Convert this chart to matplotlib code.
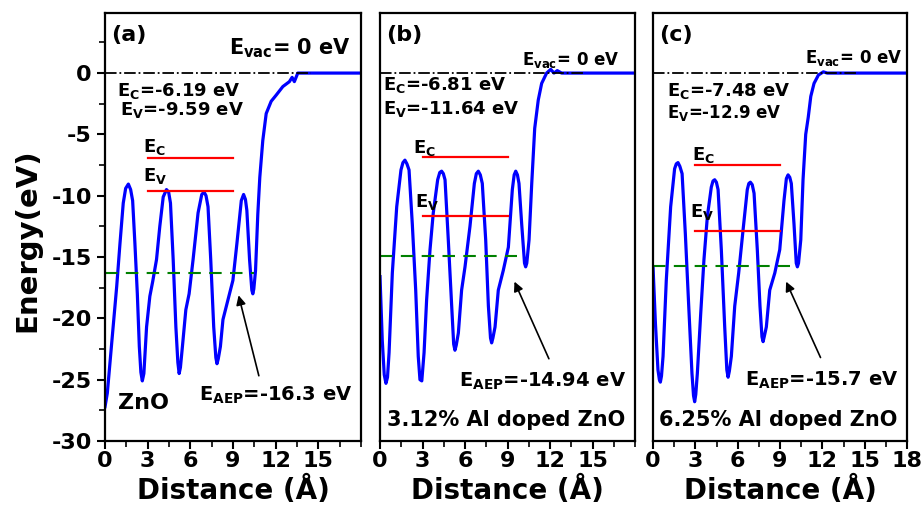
import numpy as np
import matplotlib
matplotlib.use("Agg")
import matplotlib.pyplot as plt

plt.rcParams['font.family'] = ['DejaVu Sans']
plt.rcParams['font.weight'] = 'bold'
plt.rcParams['mathtext.fontset'] = 'custom'
plt.rcParams['mathtext.rm'] = 'DejaVu Sans:bold'
plt.rcParams['mathtext.bf'] = 'DejaVu Sans:bold'
plt.rcParams['axes.unicode_minus'] = False

# planar averaged potential
dist_a = [0, 0.16, 0.47, 0.82, 1.05, 1.28, 1.45, 1.64, 1.8, 1.94, 2.10, 2.27, 2.41, 2.52, 2.62,
          2.73, 2.92, 3.15, 3.35, 3.62, 3.85, 4.09, 4.32, 4.47, 4.6, 4.79, 4.98, 5.12, 5.21,
          5.3, 5.44, 5.68, 5.91, 6.19, 6.54, 6.8, 6.96, 7.1, 7.24, 7.43, 7.64, 7.79, 7.87, 7.96,
          8.11, 8.29, 8.64, 8.99, 9.27, 9.58, 9.74, 9.87, 9.97, 10.16, 10.32, 10.39, 10.46,
          10.58, 10.74, 10.88, 11.09, 11.33, 11.68, 12.03, 12.5, 12.96, 13.15, 13.31, 13.55,
          14.0, 18.0]
pot_a = [-27.2, -26.1, -22.0, -17.4, -13.9, -10.6, -9.4, -9.05, -9.5, -10.4, -13.9, -18.0,
         -22.3, -24.4, -25.1, -24.5, -20.7, -18.2, -17.0, -15.2, -12.5, -10.1, -9.5, -9.7, -10.6,
         -15.2, -20.7, -23.6, -24.5, -24.0, -22.3, -19.3, -18.0, -15.2, -11.4, -9.9, -9.7,
         -10.0, -10.9, -15.2, -20.7, -23.2, -23.7, -23.3, -22.3, -20.1, -18.5, -16.9, -13.9,
         -10.4, -9.9, -10.3, -11.2, -15.2, -17.7, -18.0, -17.6, -16.1, -11.5, -8.5, -5.5, -3.3,
         -2.3, -1.8, -1.1, -0.7, -0.35, -0.7, 0, 0, 0]

dist_b = [0, 0.16, 0.3, 0.42, 0.53, 0.64, 0.87, 1.18, 1.48, 1.62, 1.76, 1.9, 2.05, 2.28, 2.52,
          2.70, 2.82, 2.95, 3.11, 3.29, 3.53, 3.76, 4.07, 4.22, 4.35, 4.47, 4.59, 4.82, 5.06,
          5.2, 5.29, 5.38, 5.53, 5.76, 6.0, 6.35, 6.66, 6.8, 6.94, 7.08, 7.22, 7.46, 7.65, 7.8,
          7.88, 7.97, 8.12, 8.35, 8.70, 9.06, 9.34, 9.47, 9.58, 9.7, 9.81, 10.0, 10.2, 10.28,
          10.36, 10.52, 10.71, 10.92, 11.17, 11.41, 11.76, 12.05, 12.28, 12.51, 12.82, 18]
pot_b = [-16.6, -21.8, -24.6, -25.3, -24.8, -22.8, -16.3, -10.9, -7.9, -7.3, -7.1, -7.4, -7.9,
         -12.3, -17.7, -23.1, -25.0, -25.1, -22.8, -18.5, -14.4, -11.4, -8.7, -8.1, -8.0, -8.2,
         -8.7, -13.6, -19.0, -22.1, -22.6, -22.2, -21.2, -17.7, -15.8, -12.5, -9.0, -8.2, -8.0,
         -8.3, -9.0, -13.6, -19.0, -21.6, -22.0, -21.6, -20.7, -17.7, -16.1, -14.2, -9.5, -8.3,
         -8.0, -8.3, -9.0, -12.3, -15.5, -15.8, -15.5, -13.6, -9.0, -4.5, -2.2, -0.84, 0, 0.3,
         0, 0.2, 0, 0]

dist_c = [0, 0.17, 0.35, 0.45, 0.52, 0.6, 0.71, 0.94, 1.25, 1.53, 1.65, 1.77, 1.9, 2.06, 2.29,
          2.53, 2.76, 2.87, 2.95, 3.03, 3.14, 3.38, 3.61, 3.85, 4.13, 4.25, 4.37, 4.49, 4.61,
          4.84, 5.08, 5.23, 5.32, 5.41, 5.55, 5.79, 6.07, 6.38, 6.68, 6.79, 6.90, 7.03, 7.16,
          7.39, 7.58, 7.72, 7.80, 7.88, 8.03, 8.27, 8.63, 8.98, 9.28, 9.45, 9.57, 9.69, 9.80,
          9.99, 10.15, 10.23, 10.31, 10.47, 10.63, 10.82, 11.0, 11.18, 11.41, 11.72, 12.07,
          12.35, 18]
pot_c = [-15.8, -20.4, -24.2, -25.0, -25.2, -24.7, -23.1, -16.9, -10.9, -7.8, -7.4, -7.3, -7.6,
         -8.2, -13.1, -19.0, -24.5, -26.3, -26.8, -26.2, -24.5, -19.6, -15.2, -11.7, -9.3, -8.8,
         -8.7, -8.9, -9.5, -14.4, -20.7, -24.2, -24.8, -24.3, -23.1, -19.0, -16.3, -12.8, -9.5,
         -9.0, -8.9, -9.1, -9.8, -14.4, -19.0, -21.5, -21.9, -21.5, -20.7, -17.7, -16.3, -14.4,
         -10.4, -8.6, -8.3, -8.5, -9.0, -12.3, -15.5, -15.8, -15.5, -13.6, -8.7, -5.0, -3.6,
         -1.9, -0.84, -0.16, 0.1, 0, 0]

panel_labels = ['(a)', '(b)', '(c)']
e_c = [-6.9, -6.81, -7.48]
e_v = [-9.59, -11.64, -12.9]
e_aep = [-16.3, -14.94, -15.7]
aep_end = [10.5, 9.65, 9.7]
ec_text = ['-6.19 eV', '-6.81 eV', '-7.48 eV']
ev_text = ['-9.59 eV', '-11.64 eV', '-12.9 eV']
aep_text = ['-16.3 eV', '-14.94 eV', '-15.7 eV']
names = ['ZnO', '3.12% Al doped ZnO', '6.25% Al doped ZnO']

dists = [dist_a, dist_b, dist_c]
pots = [pot_a, pot_b, pot_c]

fig = plt.figure(figsize=(9.23, 5.07), dpi=100)
lefts = [0.1138, 0.4117, 0.7075]
widths = [0.2774, 0.2763, 0.2752]

# per-panel text placement (data coords)
ec_lab_xy = [(2.7, -6.4), (2.3, -6.5), (2.75, -7.1)]
ev_lab_xy = [(2.7, -8.8), (2.5, -10.9), (2.6, -11.7)]
ec_txt_xy = [(0.84, -1.9), (0.2, -1.4), (1.0, -1.9)]
ev_txt_xy = [(1.05, -3.4), (0.2, -3.3), (1.0, -3.7)]
aep_txt_xy = [(17.4, -26.7), (17.4, -25.6), (17.4, -25.5)]
arrow_tail = [(10.86, -24.9), (12.0, -23.5), (11.95, -23.4)]
arrow_head = [(9.34, -17.9), (9.41, -16.8), (9.35, -16.8)]
evac_xy = [(17.3, 1.5), (16.9, 0.65), (17.7, 0.8)]
evac_size = [15, 12, 12]

for i in range(3):
    ax = fig.add_axes([lefts[i], 0.1302, widths[i], 0.8442])
    ax.plot([0, 14.5], [0, 0], color='black', lw=1.3, ls='-.', zorder=3)
    ax.plot(dists[i], pots[i], color='#0000ff', lw=2.3, zorder=2,
            solid_joinstyle='round')
    ax.plot([3, 9], [e_c[i], e_c[i]], color='#ff0000', lw=1.6)
    ax.plot([3, 9], [e_v[i], e_v[i]], color='#ff0000', lw=1.6)
    ax.plot([0, aep_end[i]], [e_aep[i], e_aep[i]], color='#008000', lw=1.5,
            ls=(0, (6, 4)))
    ax.annotate('', xy=arrow_head[i], xytext=arrow_tail[i],
                arrowprops=dict(arrowstyle='-|>', color='black', lw=1.2,
                                mutation_scale=14))

    ax.set_xlim(0, 18)
    ax.set_ylim(-30, 4.9)
    ax.text(0.4, 3.9, panel_labels[i], fontsize=16, fontweight='bold', va='top')
    ax.text(evac_xy[i][0], evac_xy[i][1], r'E$_{\mathbf{vac}}$= 0 eV', fontsize=evac_size[i],
            ha='right', va='baseline')
    ax.text(ec_txt_xy[i][0], ec_txt_xy[i][1], r'E$_{\mathbf{C}}$=' + ec_text[i],
            fontsize=13, va='baseline')
    ax.text(ev_txt_xy[i][0], ev_txt_xy[i][1], r'E$_{\mathbf{V}}$=' + ev_text[i],
            fontsize=13 if i < 2 else 12, va='baseline')
    ax.text(ec_lab_xy[i][0], ec_lab_xy[i][1], r'E$_{\mathbf{C}}$', fontsize=13, va='baseline')
    ax.text(ev_lab_xy[i][0], ev_lab_xy[i][1], r'E$_{\mathbf{V}}$', fontsize=13, va='baseline')
    ax.text(aep_txt_xy[i][0], aep_txt_xy[i][1], r'E$_{\mathbf{AEP}}$=' + aep_text[i],
            fontsize=14, ha='right', va='baseline')
    if i == 0:
        ax.text(0.9, -27.4, names[i], fontsize=16, va='baseline')
    else:
        ax.text(8.9, -28.8, names[i], fontsize=15, ha='center', va='baseline')

    xt = [0, 3, 6, 9, 12, 15, 18] if i == 2 else [0, 3, 6, 9, 12, 15]
    ax.set_xticks(xt)
    ax.set_xticks(np.arange(0, 18.1, 1.5), minor=True)
    ax.tick_params(axis='x', which='major', labelsize=16, direction='out', length=6,
                   width=1.5, pad=1)
    ax.tick_params(axis='x', which='minor', direction='out', length=4, width=1.2)
    if i == 0:
        ax.set_yticks(np.arange(-30, 0.1, 5))
        ax.set_yticks(np.arange(-30, 5, 2.5), minor=True)
        ax.tick_params(axis='y', which='major', labelsize=16, direction='out', length=6,
                       width=1.5)
        ax.tick_params(axis='y', which='minor', direction='out', length=4, width=1.2)
        ax.set_ylabel('Energy(eV)', fontsize=21, fontweight='bold')
        ax.yaxis.set_label_coords(-0.25, 0.47)
    else:
        ax.set_yticks([])
    ax.set_xlabel('Distance (Å)', fontsize=20, fontweight='bold', labelpad=4)
    for s in ax.spines.values():
        s.set_linewidth(1.6)

fig.savefig('out.png', dpi=100)
